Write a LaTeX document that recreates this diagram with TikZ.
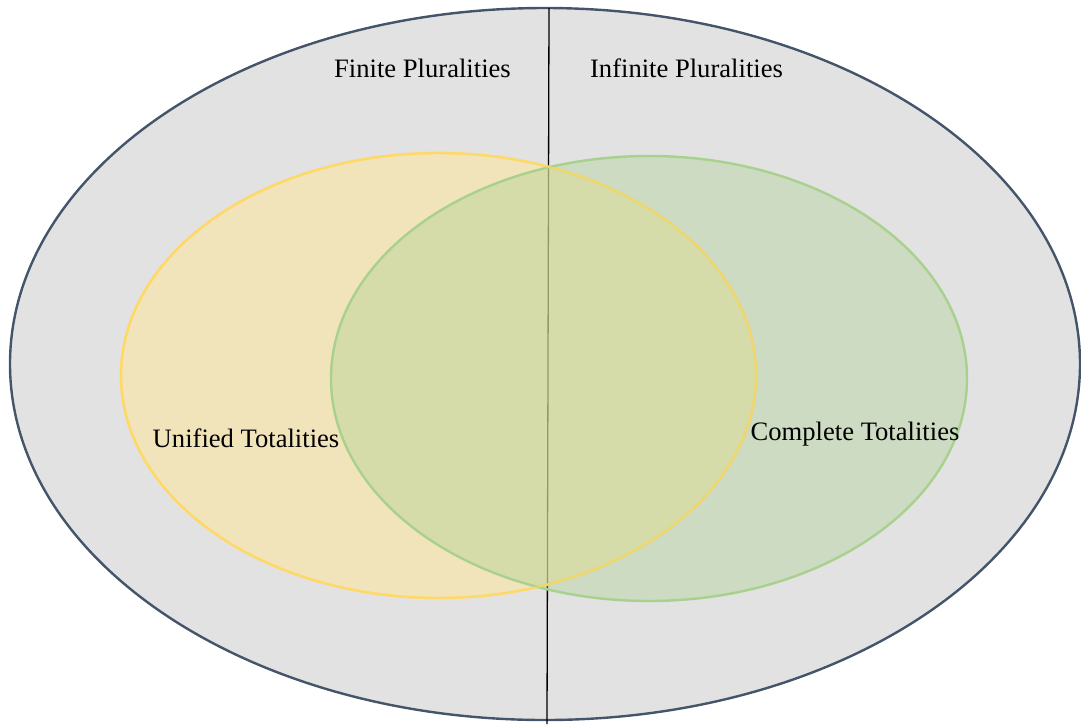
\documentclass[tikz,border=0pt]{standalone}
\usepackage{fontspec}
\usetikzlibrary{shapes.geometric}
\setmainfont{Liberation Serif}
\definecolor{outerfill}{RGB}{226,226,226}
\definecolor{outerline}{RGB}{68,84,106}
\definecolor{yel}{RGB}{255,217,102}
\definecolor{yelfill}{RGB}{255,230,153}
\definecolor{grn}{RGB}{169,209,142}
\tikzset{
  lbl/.style={anchor=base, inner sep=0pt, font=\fontsize{26.6}{32}\selectfont, text=black},
  setA/.style={fill=yelfill, fill opacity=0.52},
  setB/.style={draw=grn, line width=2.4pt, fill=grn, fill opacity=0.38, draw opacity=1}
}
\begin{document}
\begin{tikzpicture}[x=1pt,y=-1pt]
\useasboundingbox (0,0) rectangle (1081,724);
\node[draw=outerline, fill=outerfill, line width=2.4pt, ellipse, minimum width=1070pt, minimum height=712pt, inner sep=0pt] (outer) at (545,364) {};
\coordinate (top) at (549,8);
\coordinate (bot) at (547,724);
\draw[line width=1.3pt, black] (top) -- (bot);
\fill[setA] (438.5,375.5) ellipse [x radius=317.5pt, y radius=222.5pt];
\draw[yel, line width=2.4pt] (438.5,375.5) ellipse [x radius=317.5pt, y radius=222.5pt];
\fill[setB] (649,378.5) ellipse [x radius=318pt, y radius=222.5pt];
\draw[yel, line width=2.4pt, opacity=0.55] (438.5,375.5) ellipse [x radius=317.5pt, y radius=222.5pt];
\node[lbl] (fin) at (422.5,77) {Finite Pluralities};
\node[lbl] (inf) at (686.5,77) {Infinite Pluralities};
\node[lbl] (uni) at (246,447) {Unified Totalities};
\node[lbl] (com) at (855,440) {Complete Totalities};
\end{tikzpicture}
\end{document}
